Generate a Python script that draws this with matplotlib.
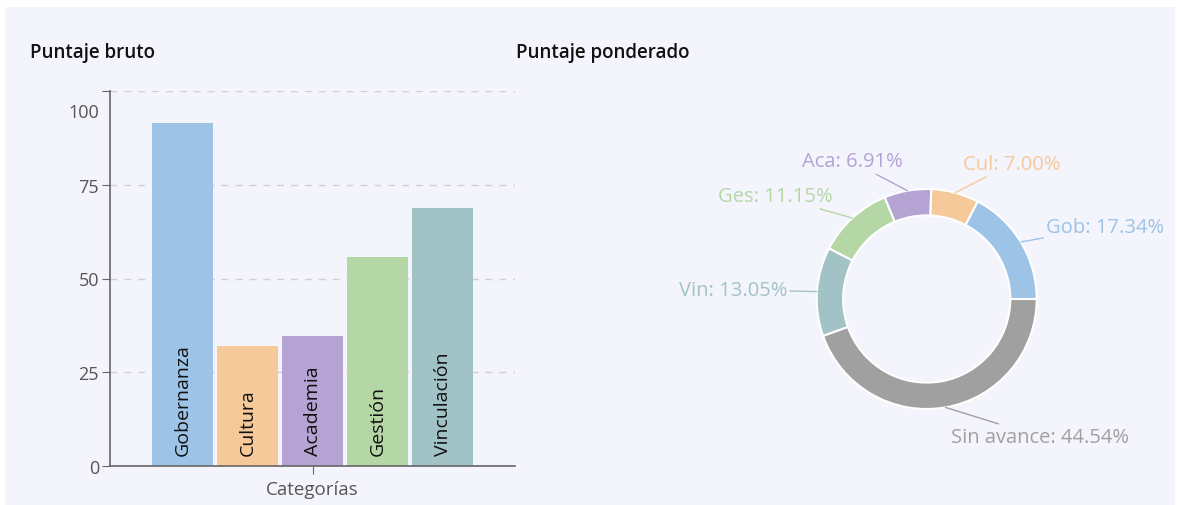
import numpy as np
import matplotlib.pyplot as plt
import matplotlib.transforms as mtransforms
from matplotlib.patches import Rectangle

plt.rcParams['font.family'] = ['Open Sans', 'DejaVu Sans']

# data
categorias = ['Gobernanza', 'Cultura', 'Academia', 'Gestión', 'Vinculación']
puntaje_bruto = [91.5, 32, 34.7, 55.7, 68.8]
colores = ['#9dc3e6', '#f5c99a', '#b4a3d3', '#b5d7a5', '#a1c3c6']

pie_labels = ['Gob', 'Cul', 'Aca', 'Ges', 'Vin', 'Sin avance']
pie_values = [17.34, 7.00, 6.91, 11.15, 13.05, 44.54]
pie_colors = ['#9dc3e6', '#f5c99a', '#b4a3d3', '#b5d7a5', '#a1c3c6', '#a0a0a0']

yticks = [0, 25, 50, 75, 100]

bg = '#f4f4fd'
fig = plt.figure(figsize=(11.77, 5.06), dpi=100)
fig.patch.set_facecolor('white')
fig.patches.append(Rectangle((5 / 1177, 0), 1170 / 1177, 498 / 506,
                             transform=fig.transFigure, facecolor=bg,
                             edgecolor='none', zorder=-10))

# --- bar chart ---
ax = fig.add_axes([110 / 1177, (506 - 467) / 506, 405 / 1177, 375 / 506])
ax.patch.set_alpha(0)
w = 0.151
step = 0.1605
for i, (cat, val, col) in enumerate(zip(categorias, puntaje_bruto, colores)):
    x = (i - 2) * step
    ax.bar(x, val, width=w, color=col, zorder=2)
    ax.text(x, 3, cat, rotation=90, ha='center', va='bottom',
            fontsize=14, color='#111111', zorder=3)

ax.set_xlim(-0.5, 0.5)
ax.set_ylim(0, 100)
ax.set_yticks(yticks)
ax.set_xticks([0])
ax.set_xticklabels(['Categorías'])
ax.tick_params(axis='x', length=6, color='#666666', labelcolor='#555555',
               labelsize=13.5, pad=4)
ax.tick_params(axis='y', length=6, color='#666666', labelcolor='#555555',
               labelsize=13, pad=2)
for sp in ['top', 'right']:
    ax.spines[sp].set_visible(False)
for sp in ['left', 'bottom']:
    ax.spines[sp].set_color('#666666')
    ax.spines[sp].set_linewidth(1.2)
ax.grid(axis='y', linestyle=(0, (5, 5)), color='#d0d0d0', linewidth=1, zorder=0)
# "100" label sits a little below its tick
lbl = ax.get_yticklabels()[-1]
lbl.set_transform(lbl.get_transform() + mtransforms.ScaledTranslation(0, -0.19, fig.dpi_scale_trans))

fig.text(30 / 1177, 1 - 53 / 506, 'Puntaje bruto', fontsize=13.5, fontweight='semibold',
         color='#111111', va='center', ha='left')
fig.text(516 / 1177, 1 - 53 / 506, 'Puntaje ponderado', fontsize=13.5, fontweight='semibold',
         color='#111111', va='center', ha='left')

# --- donut ---
R = 110
cx, cy = 926.7, 300
pax = fig.add_axes([(cx - R) / 1177, (506 - cy - R) / 506, 2 * R / 1177, 2 * R / 506])
pax.set_aspect('equal')
pax.axis('off')
wedges, _ = pax.pie(pie_values, colors=pie_colors, startangle=0, counterclock=True,
                    radius=1, wedgeprops=dict(width=0.24, edgecolor='white', linewidth=1.5))
pax.set_xlim(-1, 1)
pax.set_ylim(-1, 1)
for wd, lab, val, col in zip(wedges, pie_labels, pie_values, pie_colors):
    ang = np.deg2rad((wd.theta1 + wd.theta2) / 2)
    x0, y0 = np.cos(ang), np.sin(ang)
    x1, y1 = 1.27 * x0, 1.27 * y0
    ha = 'left' if x0 > 0 else 'right'
    pax.annotate(f'{lab}: {val:.2f}%', xy=(x0, y0), xytext=(x1, y1),
                 ha=ha, va='center', fontsize=14.5, color=col,
                 arrowprops=dict(arrowstyle='-', color=col, lw=1,
                                 shrinkA=0, shrinkB=0),
                 annotation_clip=False)

fig.savefig('out.png', dpi=100, facecolor=fig.get_facecolor())
